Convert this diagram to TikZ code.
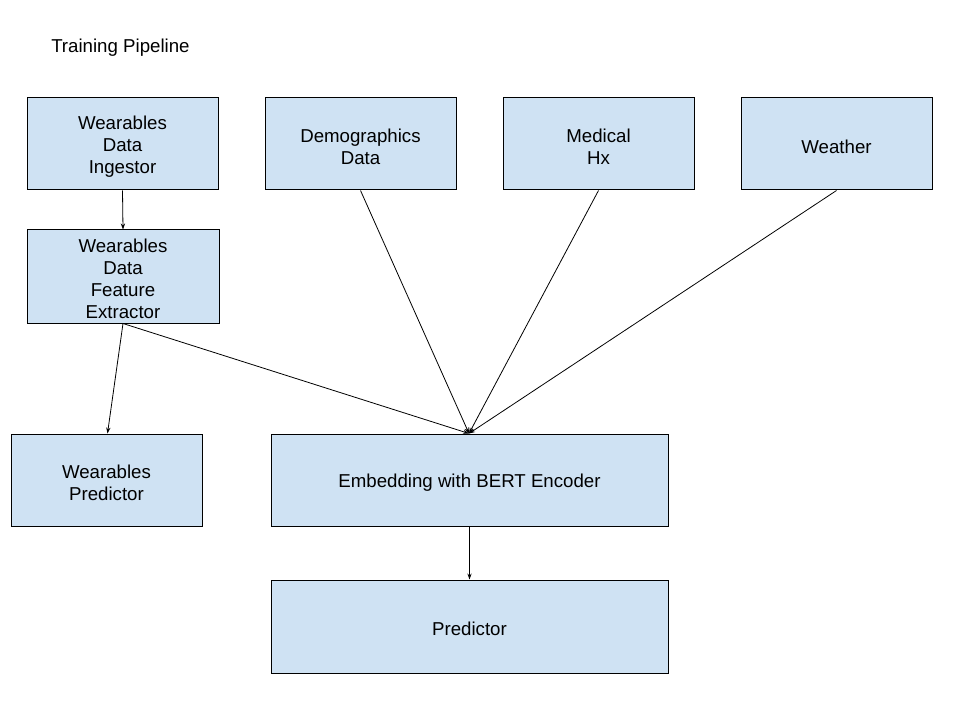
\documentclass[tikz,border=0pt]{standalone}
\usepackage{fontspec}
\setmainfont{Liberation Sans}
\usetikzlibrary{arrows.meta}
\definecolor{boxfill}{HTML}{CFE2F3}
\begin{document}
\begin{tikzpicture}[x=0.75pt,y=-0.75pt,
  box/.style={draw=black,line width=0.75pt,fill=boxfill,inner sep=0pt,anchor=center},
  txt/.style={align=center,font=\fontsize{14}{16.5}\selectfont,inner sep=0pt,anchor=center},
  arr/.style={line width=0.6pt,-{Stealth[length=4.5pt,width=3.2pt]}}]
\useasboundingbox (0,0) rectangle (960,720);
\node[anchor=west,inner sep=0pt,font=\fontsize{14}{16}\selectfont] (title) at (51,48) {Training Pipeline};
\node[box,minimum width=191*0.75pt,minimum height=92*0.75pt] (ing) at (122.5,144) {};
\node[box,minimum width=191*0.75pt,minimum height=92*0.75pt] (demo) at (360.5,144) {};
\node[box,minimum width=191*0.75pt,minimum height=92*0.75pt] (med) at (598.5,144) {};
\node[box,minimum width=191*0.75pt,minimum height=92*0.75pt] (weather) at (836.5,144) {};
\node[box,minimum width=192*0.75pt,minimum height=93*0.75pt] (feat) at (123,276.5) {};
\node[box,minimum width=191*0.75pt,minimum height=92*0.75pt] (wpred) at (106.5,480) {};
\node[box,minimum width=397*0.75pt,minimum height=92*0.75pt] (emb) at (469.5,480) {};
\node[box,minimum width=397*0.75pt,minimum height=93*0.75pt] (pred) at (469.5,626.5) {};
\node[txt] (ingt) at ([yshift=-2.2pt]ing.center) {Wearables\\Data\\Ingestor};
\node[txt] (demot) at ([yshift=-2.2pt]demo.center) {Demographics\\Data};
\node[txt] (medt) at ([yshift=-2.2pt]med.center) {Medical\\Hx};
\node[txt] (weathert) at ([yshift=-2.2pt]weather.center) {Weather};
\node[txt] (featt) at ([yshift=-1.5pt]feat.center) {Wearables\\Data\\Feature\\Extractor};
\node[txt] (wpredt) at ([yshift=-2.2pt]wpred.center) {Wearables\\Predictor};
\node[txt] (embt) at ([yshift=-2.2pt]emb.center) {Embedding with BERT Encoder};
\node[txt] (predt) at ([yshift=-1.5pt]pred.center) {Predictor};
\coordinate (embin) at ([xshift=-0.5*0.75pt]emb.north);
\draw[arr] (ing.south) -- (feat.north);
\draw[arr] (feat.south) -- ([xshift=1*0.75pt]wpred.north);
\draw[arr] (feat.south) -- (embin);
\draw[arr] (demo.south) -- (embin);
\draw[arr] (med.south) -- (embin);
\draw[arr] (weather.south) -- (embin);
\draw[arr] (emb.south) -- (pred.north);
\end{tikzpicture}
\end{document}
